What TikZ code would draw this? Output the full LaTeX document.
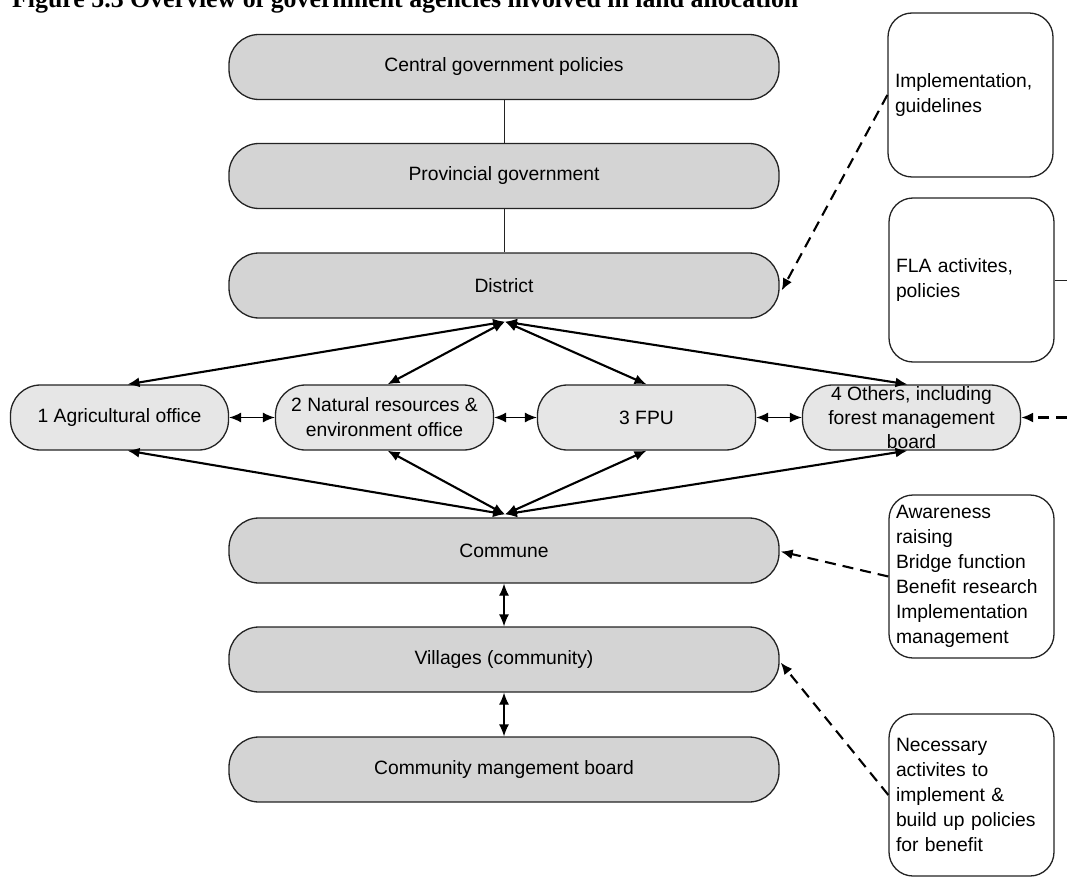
\documentclass[tikz,border=0pt]{standalone}
\usepackage{fontspec}
\usepackage{graphicx}
\usetikzlibrary{arrows.meta,calc}
\newfontfamily\lblfamily{Liberation Sans}
\newfontfamily\ttlfamily{Liberation Serif}
\newcommand\lblfont{\lblfamily\fontsize{19.3}{25}\selectfont}
\definecolor{mainfill}{RGB}{212,212,212}
\definecolor{midfill}{RGB}{230,230,230}
\definecolor{bord}{RGB}{35,35,35}
\tikzset{
  mainbox/.style={draw=bord, fill=mainfill, line width=1.3pt, rounded corners=30pt,
    minimum width=550pt, minimum height=65pt, inner sep=0pt, font=\lblfont},
  midbox/.style={draw=bord, fill=midfill, line width=1.3pt, rounded corners=30pt,
    minimum width=218pt, minimum height=65pt, inner sep=0pt, align=center, font=\lblfont},
  notebox/.style={draw=bord, fill=white, line width=1.3pt, rounded corners=24pt,
    text width=151pt, inner xsep=7pt, inner ysep=0pt, align=left, font=\lblfont},
  plainlink/.style={draw=bord, line width=1pt},
  fan/.style={<->, line width=2.1pt},
  link/.style={<->, line width=1.3pt},
  notearrow/.style={->, line width=2.1pt, dash pattern=on 11pt off 7pt},
}
\begin{document}
\begin{tikzpicture}[x=1pt,y=-1pt,>={Latex[length=12pt,width=10pt]}]
\useasboundingbox (0,0) rectangle (1067,877);
\clip (0,0) rectangle (1067,877);

% title (cut off at the top, as in the reference)
\node[anchor=base west, inner sep=0pt] (title) at (12,8)
  {\resizebox{786pt}{!}{\ttlfamily\bfseries Figure 5.3 Overview of government agencies involved in land allocation}};

% main column
\node[mainbox] (cen) at (504,67) {Central government policies};
\node[mainbox] (prov) at (504,176) {Provincial government};
\node[mainbox] (dist) at (504,285.5) {District};
\node[mainbox] (com) at (504,550.5) {Commune};
\node[mainbox] (vil) at (504,659.5) {Villages (community)};
\node[mainbox] (brd) at (504,769.5) {Community mangement board};

% middle row
\node[midbox] (agri) at (119.5,417.5) {1 Agricultural office};
\node[midbox] (nat) at (384.5,417.5) {2 Natural resources \&\\environment office};
\node[midbox] (fpu) at (646.5,417.5) {3 FPU};
\node[midbox, font=\lblfamily\fontsize{19.3}{24}\selectfont] (oth) at (911.5,417.5) {4 Others, including\\forest management\\board};

% note boxes
\node[notebox, minimum height=164pt] (n1) at (970.5,95) {Implementation,\\guidelines};
\node[notebox, minimum height=164pt] (n2) at (971.5,280) {FLA activites,\\policies};
\node[notebox, minimum height=163pt] (n3) at (971.5,576.5) {Awareness\\raising\\Bridge function\\Benefit research\\Implementation\\management};
\node[notebox, minimum height=162pt] (n4) at (971.5,795) {Necessary\\activites to\\implement \&\\build up policies\\for benefit};

% plain links
\draw[plainlink] (cen.south) -- (prov.north);
\draw[plainlink] (prov.south) -- (dist.north);

% fan from District
\coordinate (dtip) at ($(dist.south)+(1,3)$);
\draw[fan] (dtip) -- ($(agri.north)+(8,0)$);
\draw[fan] (dtip) -- ($(nat.north)+(3,0)$);
\draw[fan] (dtip) -- (fpu.north);
\draw[fan] (dtip) -- ($(oth.north)+(-4,0)$);

% fan from Commune
\coordinate (ctip) at ($(com.north)+(1,-3)$);
\draw[fan] (ctip) -- ($(agri.south)+(8,0)$);
\draw[fan] (ctip) -- ($(nat.south)+(3,0)$);
\draw[fan] (ctip) -- (fpu.south);
\draw[fan] (ctip) -- ($(oth.south)+(-4,0)$);

% horizontal links
\draw[link] (agri.east) -- (nat.west);
\draw[link] (nat.east) -- (fpu.west);
\draw[link] (fpu.east) -- (oth.west);

% vertical links
\draw[link] (com.south) -- (vil.north);
\draw[link] (vil.south) -- (brd.north);

% dashed note arrows
\draw[notearrow] (n1.west) -- ($(dist.east)+(2,5)$);
\draw[notearrow] (n3.west) -- ($(com.east)+(1,1)$);
\draw[notearrow] (n4.west) -- ($(vil.east)+(1,3)$);
\coordinate (rin) at (1067,417.5);
\draw[notearrow] (rin) -- (oth.east);
\coordinate (rout) at (1067,280);
\draw[plainlink] (n2.east) -- (rout);
\end{tikzpicture}
\end{document}
